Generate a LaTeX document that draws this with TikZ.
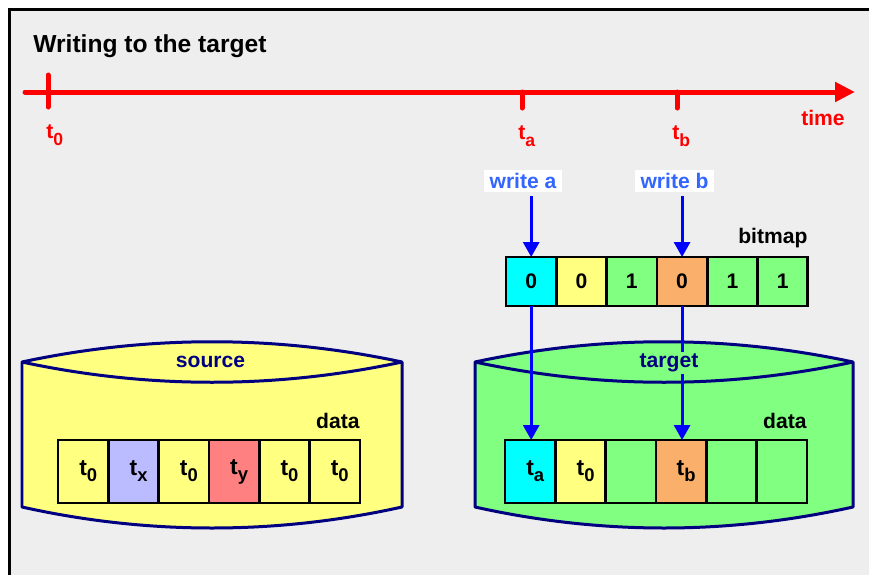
\documentclass[tikz,border=0pt]{standalone}
\usepackage{fontspec}
\setmainfont{Liberation Sans}
\usetikzlibrary{arrows.meta, positioning}

\definecolor{bgray}{RGB}{238,238,238}
\definecolor{aqua}{RGB}{0,255,255}
\definecolor{lightyellow}{RGB}{255,255,128}
\definecolor{lightgreen}{RGB}{128,255,128}
\definecolor{lavender}{RGB}{187,187,255}
\definecolor{salmon}{RGB}{255,128,128}
\definecolor{peach}{RGB}{250,176,106}
\definecolor{navy}{RGB}{0,0,128}
\definecolor{writeblue}{RGB}{51,102,255}

% t with a lowered index, for the time axis and the blocks
\newcommand{\tsub}[1]{t\raisebox{-0.7ex}{\fontsize{10}{10}\selectfont #1}}
\newcommand{\cellt}[1]{\hspace{0.2cm}\fontsize{13}{15}\selectfont t\raisebox{-0.5ex}{\fontsize{10.5}{10}\selectfont #1}}

% drum: left x, right x, fill colour
\newcommand{\drum}[3]{%
  \filldraw[drumline, fill=#3] (#1,362) .. controls +(126,-27) and +(-126,-27) .. (#2,362)
    -- (#2,507) .. controls +(-126,28) and +(126,28) .. (#1,507) -- cycle;
  \draw[drumline] (#1,362) .. controls +(126,27) and +(-126,27) .. (#2,362);}

\begin{document}
\begin{tikzpicture}[x=0.02cm, y=-0.02cm, font=\fontsize{12}{14}\selectfont\bfseries]
    \tikzstyle{bitbox}=[draw, line width=1.5pt, minimum width=1.006cm, minimum height=0.98cm, inner sep=0pt, outer sep=0pt]
    \tikzstyle{databox}=[bitbox, minimum height=1.26cm]
    \tikzstyle{timeline}=[red, line width=0.1cm, line cap=round]
    \tikzstyle{writearrow}=[blue, line width=0.06cm, -{Triangle[width=0.32cm, length=0.3cm]}]
    \tikzstyle{drumline}=[navy, line width=0.06cm, line join=round]
    \tikzstyle{writelabel}=[fill=white, text=writeblue, inner xsep=3pt, inner ysep=2pt]

    \useasboundingbox (0,0) rectangle (869,575);
    \fill[white] (0,0) rectangle (869,575);
    \fill[bgray] (9.3,9.3) rectangle (869,575);
    \draw[black, line width=0.05cm] (9.3,575) -- (9.3,9.3) -- (869,9.3);

    \node[anchor=base west, inner sep=0pt, font=\fontsize{14}{16}\selectfont\bfseries] (title) at (33,52) {Writing to the target};

    % time axis
    \coordinate (start) at (25,92);
    \coordinate (end) at (855,92);
    \coordinate (t0) at (48,92);
    \coordinate (ta) at (522,92);
    \coordinate (tb) at (677,92);
    \draw[timeline, -{Triangle[width=0.38cm, length=0.4cm]}] (start) -- (end);
    \draw[timeline] (t0) ++(0,-17) -- ++(0,32);
    \draw[timeline] (ta) -- ++(0,16);
    \draw[timeline] (tb) -- ++(0,16);

    \node[red, anchor=base west, inner sep=0pt] (t0label) at (46,138) {\tsub{0}};
    \node[red, anchor=base west, inner sep=0pt] (talabel) at (518,139) {\tsub{a}};
    \node[red, anchor=base west, inner sep=0pt] (tblabel) at (672,139) {\tsub{b}};
    \node[red, anchor=base, inner sep=0pt] (time) at (823,125) {time};

    \node[writelabel] (writea) at (523,181) {write a};
    \node[writelabel] (writeb) at (674.5,181) {write b};

    % bitmap
    \node[bitbox, fill=aqua] (b1) at (531.2,281.5) {0};
    \node[bitbox, fill=lightyellow, right=0pt of b1] (b2) {0};
    \node[bitbox, fill=lightgreen, right=0pt of b2] (b3) {1};
    \node[bitbox, fill=peach, right=0pt of b3] (b4) {0};
    \node[bitbox, fill=lightgreen, right=0pt of b4] (b5) {1};
    \node[bitbox, fill=lightgreen, right=0pt of b5] (b6) {1};
    \node[above=5pt of b6.north east, anchor=south east, inner sep=0pt] (bitmap) {bitmap};

    \draw[writearrow, shorten <=2pt] (b1 |- writea.south) -- (b1.north);
    \draw[writearrow, shorten <=2pt] (b4 |- writeb.south) -- (b4.north);

    % source and target drums
    \drum{22}{402}{lightyellow}
    \drum{475}{853}{lightgreen}

    \node[databox, fill=lightyellow] (s1) at (83.3,471.5) {\cellt{0}};
    \node[databox, fill=lavender, right=0pt of s1] (s2) {\cellt{x}};
    \node[databox, fill=lightyellow, right=0pt of s2] (s3) {\cellt{0}};
    \node[databox, fill=salmon, right=0pt of s3] (s4) {\cellt{y}};
    \node[databox, fill=lightyellow, right=0pt of s4] (s5) {\cellt{0}};
    \node[databox, fill=lightyellow, right=0pt of s5] (s6) {\cellt{0}};
    \node[above=6pt of s6.north east, anchor=south east, inner sep=0pt] (sdata) {data};

    \node[databox, fill=aqua] (d1) at (530.3,471.5) {\cellt{a}};
    \node[databox, fill=lightyellow, right=0pt of d1] (d2) {\cellt{0}};
    \node[databox, fill=lightgreen, right=0pt of d2] (d3) {};
    \node[databox, fill=peach, right=0pt of d3] (d4) {\cellt{b}};
    \node[databox, fill=lightgreen, right=0pt of d4] (d5) {};
    \node[databox, fill=lightgreen, right=0pt of d5] (d6) {};
    \node[above=6pt of d6.north east, anchor=south east, inner sep=0pt] (tdata) {data};

    \draw[writearrow] (b1.south) -- (b1.south |- d1.north);
    \draw[writearrow] (b4.south) -- (b4.south |- d4.north);

    \node[navy, fill=lightyellow, inner sep=1pt] (source) at (210.5,362) {source};
    \node[navy, fill=lightgreen, inner sep=1pt] (target) at (669,363) {target};
\end{tikzpicture}
\end{document}
